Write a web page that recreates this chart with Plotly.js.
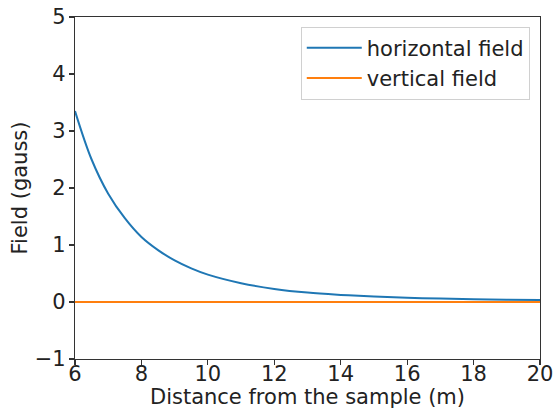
<!DOCTYPE html>
<html>
<head>
<meta charset="utf-8">
<script src="https://cdn.plot.ly/plotly-3.0.1.min.js"></script>
<style>html,body{margin:0;padding:0;background:#fff;}#chart{width:553px;height:409px;}</style>
</head>
<body>
<div id="chart"></div>
<script>
// Distance from the sample (m)
const distance = [6.0, 6.5, 7.0, 7.5, 8.0, 8.5, 9.0, 9.5, 10, 11, 12, 13, 14, 15, 16, 17, 18, 19, 20];
// Horizontal field (gauss)
const horizontalField = [3.35, 2.50, 1.90, 1.47, 1.14, 0.91, 0.73, 0.59, 0.48, 0.33, 0.23, 0.165, 0.125, 0.095, 0.075, 0.06, 0.048, 0.04, 0.033];
// Vertical field (gauss)
const verticalField = [0, 0, 0, 0, 0, 0, 0, 0, 0, 0, 0, 0, 0, 0, 0, 0, 0, 0, 0];
const seriesNames = ["horizontal field", "vertical field"];
const xTicks = [6, 8, 10, 12, 14, 16, 18, 20];
const yTicks = [-1, 0, 1, 2, 3, 4, 5];

const font = "DejaVu Sans, sans-serif";
const fs = 21;
const traces = [
  {x: distance, y: horizontalField, name: seriesNames[0], type: "scatter", mode: "lines",
   line: {color: "#1f77b4", width: 2, shape: "spline"}},
  {x: distance, y: verticalField, name: seriesNames[1], type: "scatter", mode: "lines",
   line: {color: "#ff7f0e", width: 2}}
];
const axisCommon = {
  showline: true, linecolor: "#333", linewidth: 1.2, mirror: true,
  ticks: "outside", ticklen: 5, tickwidth: 1.2, tickcolor: "#333",
  showgrid: false, zeroline: false, ticklabeloverflow: "allow",
  tickfont: {family: font, size: fs, color: "#222"}
};
const layout = {
  width: 553, height: 409,
  margin: {l: 75, r: 13, t: 17, b: 50},
  paper_bgcolor: "#fff", plot_bgcolor: "#fff",
  showlegend: true,
  legend: {x: 0.978, xanchor: "right", y: 0.972, yanchor: "top", itemwidth: 55,
    bgcolor: "rgba(255,255,255,0.9)", bordercolor: "#d0d0d0", borderwidth: 1,
    font: {family: font, size: fs, color: "#222"}},
  xaxis: Object.assign({}, axisCommon, {range: [6, 20], tickvals: xTicks, ticklabelstandoff: -9,
    title: {text: "Distance from the sample (m)", font: {family: font, size: fs, color: "#222"}, standoff: 9}}),
  yaxis: Object.assign({}, axisCommon, {range: [-1, 5], tickvals: yTicks, ticklabelstandoff: -1,
    title: {text: "Field (gauss)", font: {family: font, size: fs, color: "#222"}, standoff: 1}})
};
Plotly.newPlot("chart", traces, layout, {displayModeBar: false, staticPlot: true});
</script>
</body>
</html>
